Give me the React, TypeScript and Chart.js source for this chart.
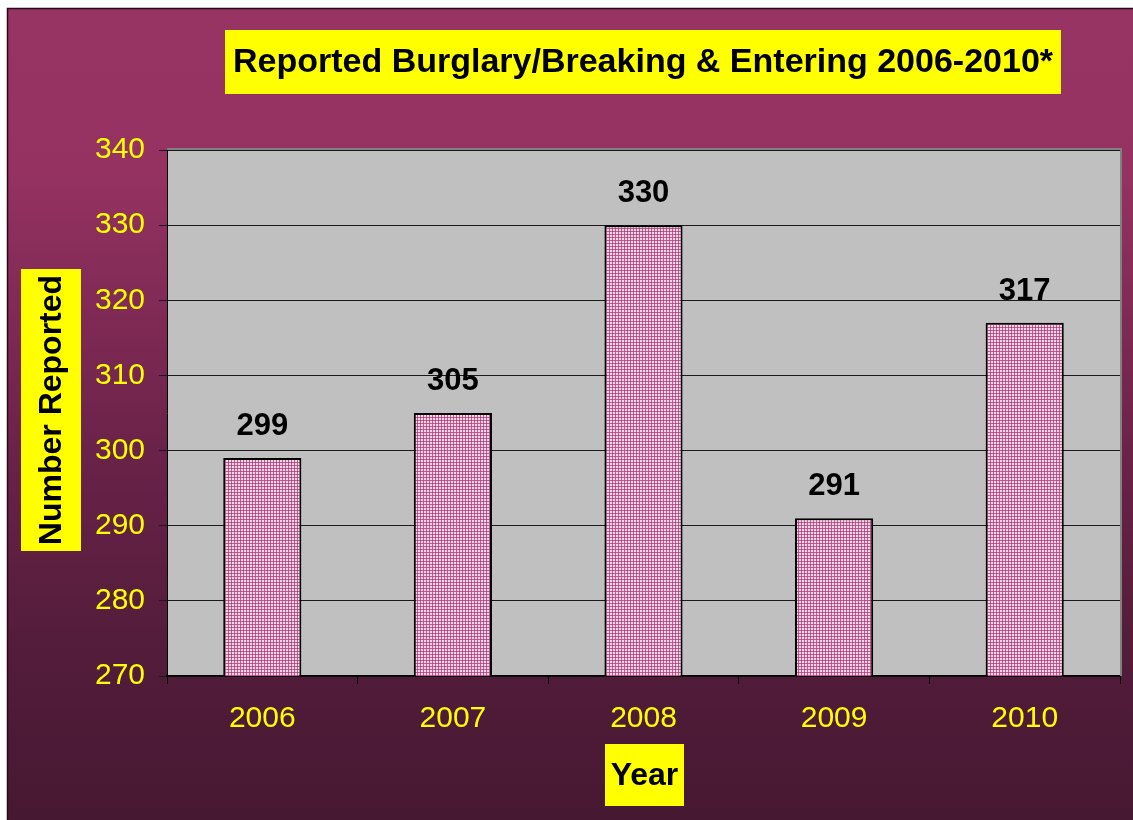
import React, { useEffect, useRef } from "react";
import { Chart, registerables } from "chart.js";

Chart.register(...registerables);

const categories = ["2006", "2007", "2008", "2009", "2010"];
const reported = [299, 305, 330, 291, 317];
const yMin = 270;
const yMax = 340;
const yStep = 10;
const titleText = "Reported Burglary/Breaking & Entering 2006-2010*";
const yTitleText = "Number Reported";
const xTitleText = "Year";

const FONT = "'Liberation Sans', Arial, Helvetica, sans-serif";

function makePattern(): CanvasPattern | string {
  const c = document.createElement("canvas");
  c.width = 3;
  c.height = 3;
  const g = c.getContext("2d");
  if (!g) return "#d890b8";
  g.fillStyle = "#f6d8e8";
  g.fillRect(0, 0, 3, 3);
  g.fillStyle = "#c45c92";
  g.fillRect(0, 0, 3, 1);
  g.fillRect(0, 0, 1, 3);
  g.fillStyle = "#a8407a";
  g.fillRect(0, 0, 1, 1);
  const p = g.createPattern(c, "repeat");
  return p || "#d890b8";
}

const decorPlugin = {
  id: "decor",
  beforeDraw(chart: any) {
    const { ctx, width, height, chartArea } = chart;
    ctx.save();
    ctx.fillStyle = "#ffffff";
    ctx.fillRect(0, 0, width, height);
    const grad = ctx.createLinearGradient(0, 8, 0, height);
    grad.addColorStop(0, "#983464");
    grad.addColorStop(0.2, "#953262");
    grad.addColorStop(0.55, "#6a2248");
    grad.addColorStop(0.8, "#521c3a");
    grad.addColorStop(1, "#471832");
    ctx.fillStyle = grad;
    ctx.fillRect(7, 8, width - 7, height - 8);
    ctx.strokeStyle = "#2a0818";
    ctx.lineWidth = 1.5;
    ctx.beginPath();
    ctx.moveTo(7.5, height);
    ctx.lineTo(7.5, 8.5);
    ctx.lineTo(width, 8.5);
    ctx.stroke();
    // plot area
    ctx.fillStyle = "#c0c0c0";
    ctx.fillRect(chartArea.left, chartArea.top, chartArea.right - chartArea.left, chartArea.bottom - chartArea.top);
    ctx.restore();
  },
  afterDraw(chart: any) {
    const { ctx, chartArea } = chart;
    ctx.save();
    // plot area shadow border top/right
    ctx.strokeStyle = "#808080";
    ctx.lineWidth = 2;
    ctx.beginPath();
    ctx.moveTo(chartArea.left, chartArea.top - 1);
    ctx.lineTo(chartArea.right + 1, chartArea.top - 1);
    ctx.lineTo(chartArea.right + 1, chartArea.bottom);
    ctx.stroke();

    // title box
    ctx.fillStyle = "#ffff00";
    ctx.fillRect(225, 30, 836, 64);
    ctx.fillStyle = "#000000";
    ctx.font = `bold 34px ${FONT}`;
    ctx.textAlign = "center";
    ctx.textBaseline = "middle";
    ctx.fillText(titleText, 643, 63);

    // y title
    ctx.fillStyle = "#ffff00";
    ctx.fillRect(21, 269, 60, 282);
    ctx.save();
    ctx.translate(52, 410);
    ctx.rotate(-Math.PI / 2);
    ctx.fillStyle = "#000000";
    ctx.font = `bold 32px ${FONT}`;
    ctx.textAlign = "center";
    ctx.textBaseline = "middle";
    ctx.fillText(yTitleText, 0, 0);
    ctx.restore();

    // x title
    ctx.fillStyle = "#ffff00";
    ctx.fillRect(605, 744, 79, 62);
    ctx.fillStyle = "#000000";
    ctx.font = `bold 32px ${FONT}`;
    ctx.textAlign = "center";
    ctx.textBaseline = "middle";
    ctx.fillText(xTitleText, 644.5, 776);
    ctx.restore();
  },
  afterDatasetsDraw(chart: any) {
    const { ctx } = chart;
    const meta = chart.getDatasetMeta(0);
    ctx.save();
    ctx.fillStyle = "#000000";
    ctx.font = `bold 31px ${FONT}`;
    ctx.textAlign = "center";
    ctx.textBaseline = "alphabetic";
    meta.data.forEach((bar: any, i: number) => {
      ctx.fillText(String(reported[i]), bar.x, bar.y - 23);
    });
    ctx.restore();
  },
};

export default function App() {
  const ref = useRef<HTMLCanvasElement | null>(null);
  useEffect(() => {
    if (!ref.current) return;
    const chart = new Chart(ref.current, {
      type: "bar",
      data: {
        labels: categories,
        datasets: [
          {
            data: reported,
            backgroundColor: makePattern() as any,
            borderColor: "#000000",
            borderWidth: 2,
            barPercentage: 0.41,
            categoryPercentage: 1,
          },
        ],
      },
      options: {
        animation: false,
        responsive: false,
        maintainAspectRatio: false,
        devicePixelRatio: 1,
        layout: { padding: { top: 150, right: 13, left: 0, bottom: 0 } },
        plugins: {
          legend: { display: false },
          title: { display: false },
          tooltip: { enabled: false },
        },
        scales: {
          x: {
            afterFit(scale: any) {
              scale.height = 144;
            },
            grid: {
              display: true,
              drawOnChartArea: false,
              drawTicks: true,
              offset: true,
              tickLength: 8,
              color: "#000000",
            },
            border: { display: true, color: "#000000", width: 1.5 },
            ticks: {
              color: "#ffff00",
              font: { family: FONT, size: 30 },
              padding: 17,
              maxRotation: 0,
            },
          },
          y: {
            min: yMin,
            max: yMax,
            afterFit(scale: any) {
              scale.width = 167;
            },
            grid: {
              display: true,
              drawTicks: true,
              tickLength: 8,
              color: "#1a1a1a",
              lineWidth: 1,
            },
            border: { display: true, color: "#000000", width: 1 },
            ticks: {
              stepSize: yStep,
              color: "#ffff00",
              font: { family: FONT, size: 30 },
              padding: 14,
            },
          },
        },
      },
      plugins: [decorPlugin],
    });
    return () => chart.destroy();
  }, []);
  return (
    <div style={{ position: "fixed", left: 0, top: 0, width: 1133, height: 820 }}>
      <canvas ref={ref} width={1133} height={820} style={{ display: "block" }} />
    </div>
  );
}
